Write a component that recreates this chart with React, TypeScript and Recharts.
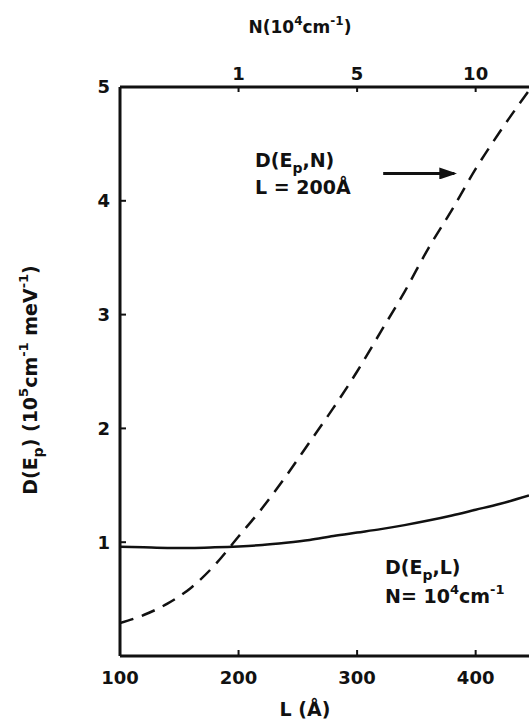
import { Label, Line, LineChart, ReferenceLine, XAxis, YAxis } from "recharts";

// L in Angstrom
const L_VALUES = [100, 120, 140, 160, 180, 200, 220, 240, 260, 280, 300, 320, 340, 360, 380, 400, 420, 445];
// D(Ep,N) at L = 200 A (dashed), plotted against the top N axis
const D_N = [0.29, 0.36, 0.46, 0.6, 0.8, 1.05, 1.3, 1.58, 1.88, 2.18, 2.5, 2.85, 3.2, 3.58, 3.92, 4.28, 4.6, 4.97];
// D(Ep,L) at N = 1e4 cm^-1 (solid)
const D_L = [0.96, 0.955, 0.95, 0.95, 0.955, 0.963, 0.975, 0.995, 1.02, 1.055, 1.085, 1.115, 1.15, 1.19, 1.235, 1.285, 1.335, 1.41];

const BOTTOM_TICKS = [100, 200, 300, 400];
const TOP_TICKS = [200, 300, 400];
const TOP_TICK_LABELS = ["1", "5", "10"];
const Y_TICKS = [1, 2, 3, 4, 5];

const FONT = "'DejaVu Sans', sans-serif";
const INK = "#111";

const rows = L_VALUES.map((l, i) => ({ L: l, dn: D_N[i], dl: D_L[i] }));

const tickStyle = { fontSize: 18, fill: INK, fontFamily: FONT, fontWeight: 600 };

export default function App() {
  return (
    <div style={{ position: "absolute", left: 0, top: 0, width: 529, height: 725, background: "#fff" }}>
      <svg width={0} height={0} style={{ position: "absolute" }}>
        <defs>
          <marker id="arrowhead" markerWidth="6" markerHeight="4" refX="5" refY="2" orient="auto" markerUnits="strokeWidth">
            <path d="M0,0 L6,2 L0,4 Z" fill={INK} />
          </marker>
        </defs>
      </svg>
      <LineChart
        width={529}
        height={725}
        data={rows}
        margin={{ top: 57, right: 0, bottom: 39, left: 80 }}
        style={{ fontFamily: FONT }}
      >
        <XAxis
          xAxisId="bottom"
          dataKey="L"
          type="number"
          domain={[100, 445]}
          ticks={BOTTOM_TICKS}
          allowDataOverflow
          height={30}
          stroke={INK}
          strokeWidth={3}
          tickSize={-6}
          tickMargin={21}
          tick={tickStyle}
          tickLine={{ strokeWidth: 2 }}
        >
          <Label
            content={({ viewBox }: any) => (
              <text x={305} y={viewBox.y + 60} textAnchor="middle" fontSize={19} fontWeight={600} fill={INK} fontFamily={FONT}>
                L (Å)
              </text>
            )}
          />
        </XAxis>
        <XAxis
          xAxisId="top"
          orientation="top"
          dataKey="L"
          type="number"
          domain={[100, 445]}
          ticks={TOP_TICKS}
          tickFormatter={(v: number) => TOP_TICK_LABELS[TOP_TICKS.indexOf(v)] ?? ""}
          allowDataOverflow
          height={30}
          stroke={INK}
          strokeWidth={3}
          tickSize={-5}
          tickMargin={12}
          tick={tickStyle}
          tickLine={{ strokeWidth: 2 }}
        >
          <Label
            content={() => (
              <text x={300} y={33} textAnchor="middle" fontSize={17} fontWeight={600} fill={INK} fontFamily={FONT}>
                N(10<tspan dy={-8} fontSize={12}>4</tspan>
                <tspan dy={8}>cm</tspan>
                <tspan dy={-8} fontSize={12}>-1</tspan>
                <tspan dy={8}>)</tspan>
              </text>
            )}
          />
        </XAxis>
        <YAxis
          yAxisId="y"
          type="number"
          domain={[0, 5]}
          ticks={Y_TICKS}
          width={40}
          stroke={INK}
          strokeWidth={3}
          tickSize={-6}
          tickMargin={16}
          tick={tickStyle}
          tickLine={{ strokeWidth: 2 }}
        >
          <Label
            content={() => (
              <text
                x={37}
                y={380}
                transform="rotate(-90 37 380)"
                textAnchor="middle"
                fontSize={19}
                fontWeight={600}
                fill={INK}
                fontFamily={FONT}
              >
                D(E<tspan dy={6} fontSize={14}>p</tspan>
                <tspan dy={-6}>) (10</tspan>
                <tspan dy={-9} fontSize={13}>5</tspan>
                <tspan dy={9}>cm</tspan>
                <tspan dy={-9} fontSize={13}>-1</tspan>
                <tspan dy={9}> meV</tspan>
                <tspan dy={-9} fontSize={13}>-1</tspan>
                <tspan dy={9}>)</tspan>
              </text>
            )}
          />
        </YAxis>
        <Line
          xAxisId="bottom"
          yAxisId="y"
          type="monotone"
          dataKey="dl"
          stroke={INK}
          strokeWidth={2.5}
          dot={false}
          isAnimationActive={false}
        />
        <Line
          xAxisId="bottom"
          yAxisId="y"
          type="monotone"
          dataKey="dn"
          stroke={INK}
          strokeWidth={2.5}
          strokeDasharray="14 9"
          dot={false}
          isAnimationActive={false}
        />
        <ReferenceLine
          xAxisId="bottom"
          yAxisId="y"
          segment={[
            { x: 322, y: 4.24 },
            { x: 382, y: 4.24 },
          ]}
          stroke={INK}
          strokeWidth={3}
          markerEnd="url(#arrowhead)"
          ifOverflow="visible"
        />
      </LineChart>
      <svg
        width={529}
        height={725}
        style={{ position: "absolute", left: 0, top: 0, pointerEvents: "none" }}
        fontFamily={FONT}
        fontWeight={600}
        fill={INK}
        fontSize={19}
      >
        <text x={255} y={167}>
          D(E<tspan dy={6} fontSize={14}>p</tspan>
          <tspan dy={-6}>,N)</tspan>
        </text>
        <text x={255} y={194}>L = 200Å</text>
        <text x={385} y={574}>
          D(E<tspan dy={6} fontSize={14}>p</tspan>
          <tspan dy={-6}>,L)</tspan>
        </text>
        <text x={385} y={603}>
          N= 10<tspan dy={-9} fontSize={13}>4</tspan>
          <tspan dy={9}>cm</tspan>
          <tspan dy={-9} fontSize={13}>-1</tspan>
        </text>
      </svg>
    </div>
  );
}
